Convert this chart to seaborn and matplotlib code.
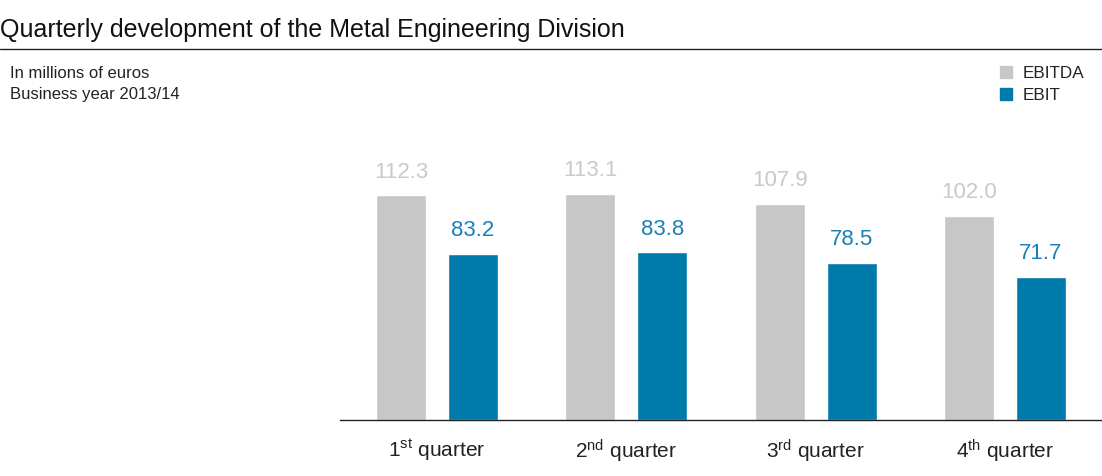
import matplotlib
matplotlib.use("Agg")
import matplotlib.pyplot as plt
import seaborn as sns
import pandas as pd
from matplotlib.patches import Rectangle

quarters = ["1$^{\\mathrm{st}}$ quarter", "2$^{\\mathrm{nd}}$ quarter",
            "3$^{\\mathrm{rd}}$ quarter", "4$^{\\mathrm{th}}$ quarter"]
series = ["EBITDA", "EBIT"]
ebitda = [112.3, 113.1, 107.9, 102.0]
ebit = [83.2, 83.8, 78.5, 71.7]

GRAY = "#c6c7c6"
BLUE = "#0079ab"
GRAY_TXT = "#c8c9c9"
BLUE_TXT = "#1a80b6"

sns.set_theme(style="white")
plt.rcParams["font.family"] = ["Liberation Sans", "DejaVu Sans"]
plt.rcParams["mathtext.fontset"] = "custom"
plt.rcParams["mathtext.rm"] = "Liberation Sans"
plt.rcParams["mathtext.it"] = "Liberation Sans"

df = pd.DataFrame({
    "quarter": quarters * 2,
    "series": [series[0]] * 4 + [series[1]] * 4,
    "value": ebitda + ebit,
})

fig = plt.figure(figsize=(11.02, 4.77), dpi=100)
ax = fig.add_axes([340 / 1102, 56 / 477, 762 / 1102, 281 / 477])

sns.barplot(data=df, x="quarter", y="value", hue="series",
            palette={"EBITDA": GRAY, "EBIT": BLUE}, width=0.76, gap=0.306,
            order=quarters, hue_order=series, ax=ax, legend=False, saturation=1)

for cont, col in zip(ax.containers, [GRAY_TXT, BLUE_TXT]):
    ax.bar_label(cont, fmt="%.1f", padding=10, color=col, fontsize=16)

ax.set_xlim(-0.513, 3.513)
ax.set_ylim(0, 140.5)
ax.set_xlabel("")
ax.set_ylabel("")
ax.set_yticks([])
for s in ["top", "right", "left"]:
    ax.spines[s].set_visible(False)
ax.spines["bottom"].set_color("#222222")
ax.spines["bottom"].set_linewidth(1.0)
ax.tick_params(axis="x", length=0, pad=12, labelsize=15, labelcolor="#222222")

fig.text(0, 1 - 30 / 477, "Quarterly development of the Metal Engineering Division",
         fontsize=18, color="#111111", va="center", ha="left")
fig.add_artist(plt.Line2D([0, 1], [1 - 50 / 477] * 2, color="#222222", lw=1.0,
                          transform=fig.transFigure))
fig.text(10 / 1102, 1 - 73 / 477, "In millions of euros", fontsize=12,
         color="#222222", va="center")
fig.text(10 / 1102, 1 - 95 / 477, "Business year 2013/14", fontsize=12,
         color="#222222", va="center")

for i, (name, col) in enumerate(zip(series, [GRAY, BLUE])):
    yc = 73 + 22 * i
    fig.add_artist(Rectangle((1000 / 1102, 1 - (yc + 6) / 477), 12 / 1102, 12 / 477,
                             color=col, transform=fig.transFigure))
    fig.text(1023 / 1102, 1 - yc / 477, name, fontsize=12.3, color="#222222",
             va="center")

fig.savefig("out.png", dpi=100)
